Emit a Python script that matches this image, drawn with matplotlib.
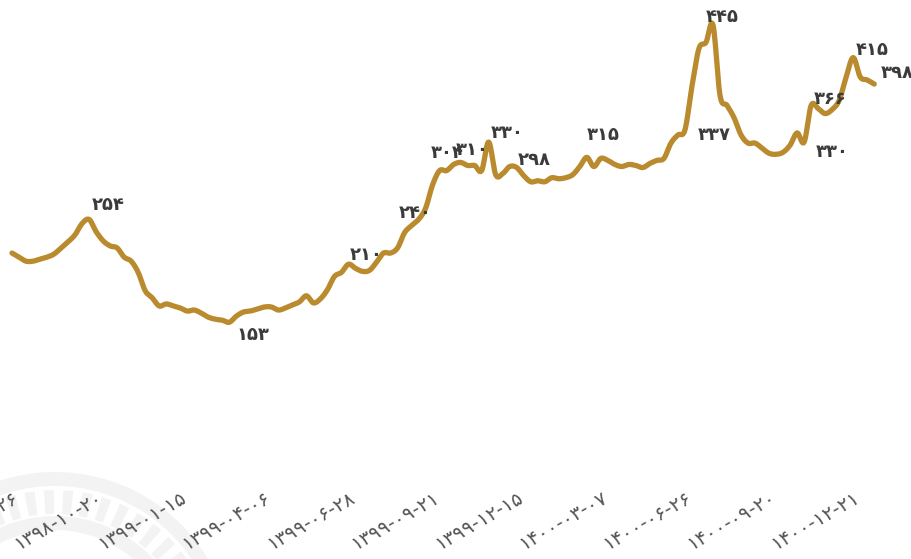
import numpy as np
import matplotlib
matplotlib.use("Agg")
import matplotlib.pyplot as plt
from matplotlib.patches import Wedge

# values (one point per category)
values = [
    221, 217, 213, 213, 215, 217, 220, 226, 232, 239,
    250, 254, 242, 233, 228, 226, 217, 213, 202, 184,
    177, 169, 171, 169, 167, 164, 165, 162, 158, 156,
    155, 153, 159, 163, 164, 166, 168, 168, 165, 167,
    170, 173, 179, 172, 176, 185, 198, 202, 210, 206,
    203, 204, 212, 221, 221, 226, 241, 248, 254, 265,
    288, 302, 302, 308, 310, 307, 307, 302, 330, 298,
    299, 306, 305, 297, 291, 292, 291, 295, 294, 295,
    298, 306, 315, 306, 314, 312, 308, 306, 308, 307,
    305, 309, 312, 314, 329, 337, 342, 385, 422, 428,
    445, 376, 366, 354, 337, 329, 329, 324, 319, 318,
    320, 327, 339, 330, 366, 363, 358, 362, 371, 394,
    413, 394, 391, 387,
]

tick_index = [0, 12, 24, 36, 48, 60, 72, 84, 96, 108, 120]
tick_dates = [
    "1398-07-26", "1398-10-20", "1399-01-15", "1399-04-06", "1399-06-28",
    "1399-09-21", "1399-12-15", "1400-03-07", "1400-06-26", "1400-09-20",
    "1400-12-21",
]

# labelled points and the number printed next to each
label_index = [11, 31, 48, 56, 61, 64, 68, 73, 82, 100, 104, 120, 123, 114, 113]
label_text = [254, 153, 210, 240, 304, 310, 330, 298, 315, 445, 337, 415, 398, 366, 330]
# text offsets in pixels (right, down)
label_offset = [(19, -14), (24, 13), (18, -9), (11, -20), (8, -18), (12, -12),
                (19, -9), (11, -16), (16, -22), (9, -8), (-27, 0), (19, -8),
                (23, -11), (19, -6), (28, 10)]

FA = str.maketrans("0123456789", "۰۱۲۳۴۵۶۷۸۹")


def fa(s):
    return str(s).translate(FA)


def smooth(xs, ys, n=12):
    # catmull-rom curve through the points, only for drawing
    xs = np.asarray(xs, float)
    ys = np.asarray(ys, float)
    px = np.r_[xs[0], xs, xs[-1]]
    py = np.r_[ys[0], ys, ys[-1]]
    t = np.linspace(0, 1, n, endpoint=False)[:, None]
    out_x, out_y = [], []
    for p, o in ((px, out_x), (py, out_y)):
        p0, p1, p2, p3 = p[:-3], p[1:-2], p[2:-1], p[3:]
        c = 0.5 * (2 * p1 + (-p0 + p2) * t + (2 * p0 - 5 * p1 + 4 * p2 - p3) * t ** 2
                   + (-p0 + 3 * p1 - 3 * p2 + p3) * t ** 3)
        o.extend(c.T.ravel())
        o.append(p[-2])
    return np.array(out_x), np.array(out_y)


W, H = 912, 559
fig = plt.figure(figsize=(W / 100, H / 100), dpi=100)

# faint logo watermark in the lower left corner
bg = fig.add_axes([0, 0, 1, 1], zorder=0)
bg.set_xlim(0, W)
bg.set_ylim(H, 0)
bg.axis("off")
wm = "#f3f3f3"
cx, cy = 55, 650
bg.add_patch(Wedge((cx, cy), 178, 0, 360, width=14, color=wm, lw=0))
bg.add_patch(Wedge((cx, cy), 134, 0, 360, width=14, color=wm, lw=0))
for a in np.arange(0, 360, 7):
    bg.add_patch(Wedge((cx, cy), 160, a, a + 3.6, width=24, color=wm, lw=0))

ax = fig.add_axes([0, 1 - 478 / H, 1, 478 / H], zorder=1)
ax.patch.set_alpha(0)
x = np.arange(len(values))
px = 7.01
ax.set_xlim(-12 / px, (W - 12) / px)
ax.set_ylim(0, 445 + 25 / 1.017)

sx, sy = smooth(x, values)
ax.plot(sx, sy, color="#BA8A2E", lw=3.8, solid_joinstyle="round",
        solid_capstyle="round", zorder=3)

for i, t, (dx, dy) in zip(label_index, label_text, label_offset):
    ax.annotate(fa(t), (x[i], values[i]), xytext=(dx * 0.72, -dy * 0.72),
                textcoords="offset points", ha="center", va="center",
                fontsize=13, fontweight="bold", color="#3b3b3b",
                family="DejaVu Sans", zorder=4)

ax.set_xticks(tick_index)
ax.set_xticklabels([fa(d) for d in tick_dates], rotation=30, ha="right",
                   rotation_mode="anchor", fontsize=14, color="#555555")
ax.tick_params(axis="x", length=0, pad=7)
ax.set_yticks([])
for s in ax.spines.values():
    s.set_visible(False)

fig.savefig("out.png", dpi=100)
